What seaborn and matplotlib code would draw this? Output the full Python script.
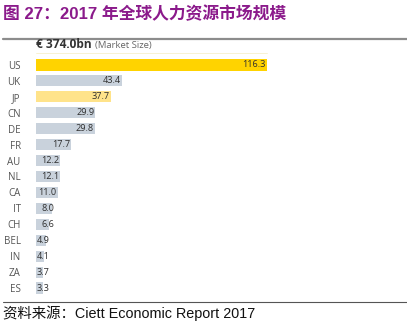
import matplotlib
matplotlib.use("Agg")
import matplotlib.pyplot as plt
import seaborn as sns
import pandas as pd
from matplotlib.lines import Line2D

countries = ["US", "UK", "JP", "CN", "DE", "FR", "AU", "NL", "CA", "IT", "CH", "BEL", "IN", "ZA", "ES"]
values = [116.3, 43.4, 37.7, 29.9, 29.8, 17.7, 12.2, 12.1, 11.0, 8.0, 6.6, 4.9, 4.1, 3.7, 3.3]
groups = ["top", "other", "second", "other", "other", "other", "other", "other",
          "other", "other", "other", "other", "other", "other", "other"]
palette = {"top": "#FFD300", "second": "#FFE38A", "other": "#C9D2DC"}

df = pd.DataFrame({"country": countries, "value": values, "group": groups})

sns.set_theme(style="white")
plt.rcParams["font.family"] = ["Noto Sans CJK SC", "DejaVu Sans"]

W, H = 407, 326
fig = plt.figure(figsize=(W / 100, H / 100), dpi=100)

ax_left, ax_right = 36, 267
ax_top, ax_bottom = 57, 296
ax = fig.add_axes([ax_left / W, 1 - ax_bottom / H, (ax_right - ax_left) / W, (ax_bottom - ax_top) / H])

sns.barplot(data=df, y="country", x="value", hue="group", palette=palette,
            orient="h", width=0.7, dodge=False, legend=False, ax=ax,
            saturation=1, edgecolor="none")

ax.set_xlim(0, max(values))
ax.set_ylim(len(countries) - 0.5, -0.5)
ax.set_xlabel("")
ax.set_ylabel("")
ax.set_xticks([])
ax.tick_params(axis="y", length=0, pad=11, labelsize=7, labelcolor="#555555")
for lbl in ax.get_yticklabels():
    lbl.set_fontfamily(["Open Sans", "DejaVu Sans"])
for s in ax.spines.values():
    s.set_visible(False)

# value labels: right-aligned inside long bars, left-aligned for short ones
label_font = dict(va="center", fontsize=6.6, color="#2E2E2E",
                  family=["Open Sans", "DejaVu Sans"])
for i, v in enumerate(values):
    if v >= 9:
        ax.text(v - 0.6, i, f"{v:.1f}", ha="right", **label_font)
    elif v >= 5:
        ax.text(3.0, i, f"{v:.1f}", ha="left", **label_font)
    else:
        ax.text(0.5, i, f"{v:.1f}", ha="left", **label_font)

# title
fig.text(3 / W, 1 - 14 / H, "图 27：2017 年全球人力资源市场规模", fontsize=12.1,
         fontweight="bold", color="#8B1A8B", ha="left", va="center",
         family=["Liberation Sans", "Noto Sans CJK SC"])

# header rule
fig.add_artist(Line2D([3 / W, 1.0], [1 - 38.5 / H] * 2, color="#8C8C8C", lw=1.6))

# market size caption
fig.text(36 / W, 1 - 45 / H, "€ 374.0bn", fontsize=8.6, fontweight="bold",
         color="#333333", ha="left", va="center", family=["Open Sans", "DejaVu Sans"])
fig.text(95 / W, 1 - 45.5 / H, "(Market Size)", fontsize=6.8, color="#666666",
         ha="left", va="center", family=["Open Sans", "DejaVu Sans"])
fig.add_artist(Line2D([36 / W, 267 / W], [1 - 53 / H] * 2, color="#F6F0CC", lw=0.6))

# footer rule and source
fig.add_artist(Line2D([3 / W, 1.0], [1 - 302 / H] * 2, color="#555555", lw=0.8))
fig.text(3 / W, 1 - 313 / H, "资料来源：Ciett Economic Report 2017", fontsize=10.4,
         color="#111111", ha="left", va="center",
         family=["Liberation Sans", "Noto Sans CJK SC"])

fig.savefig("out.png", dpi=100)
